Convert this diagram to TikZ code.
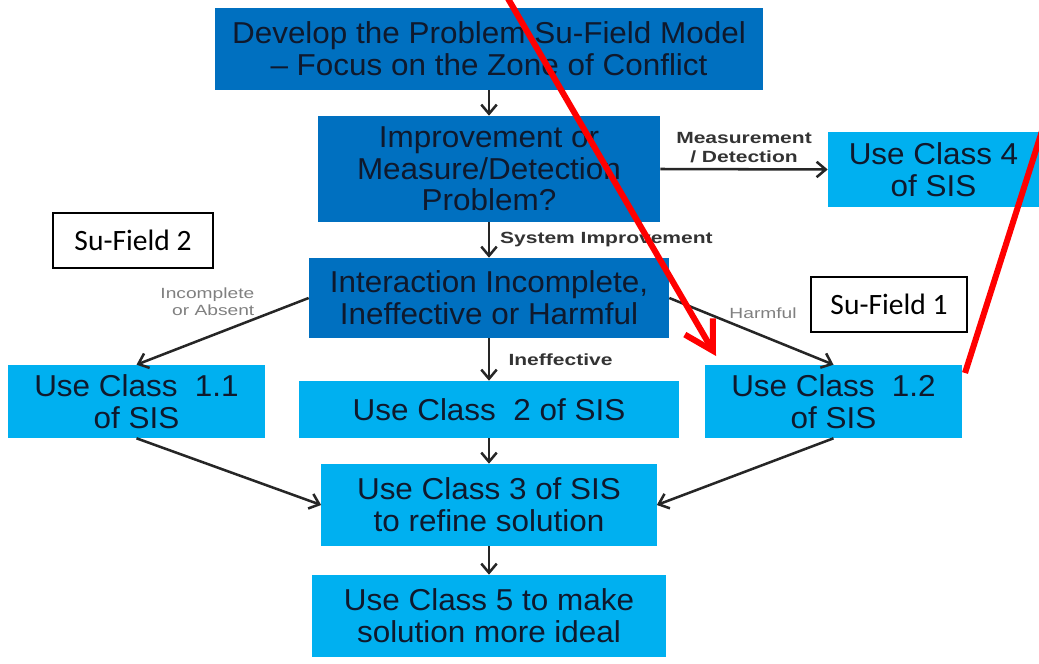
\documentclass[tikz,border=0pt]{standalone}
\usepackage{fontspec}
\setmainfont{Liberation Sans}[FakeStretch=1.04]
\newfontfamily\lblfont[FakeStretch=1.3]{Liberation Sans}
\newfontfamily\notefont{Carlito}
\usetikzlibrary{arrows.meta}
\definecolor{darkbox}{RGB}{0,112,192}
\definecolor{lightbox}{RGB}{0,176,240}
\definecolor{boxtext}{RGB}{15,25,45}

\begin{document}
\begin{tikzpicture}[x=0.025cm,y=-0.025cm,
        stepbox/.style={fill=#1,align=center,inner sep=0pt,text=boxtext,font=\fontsize{21.5}{22.5}\selectfont},
        flow/.style={-{Straight Barb[length=6.5pt,width=11pt]},line width=1.8pt,black!85},
        tag/.style={font=\lblfont\bfseries\fontsize{11.5}{13}\selectfont,align=center,inner sep=1pt,text=black!80},
        soft/.style={font=\lblfont\fontsize{10.5}{12}\selectfont,text=black!50,align=right,inner sep=1pt},
        note/.style={draw,line width=1pt,fill=white,inner sep=0pt,font=\notefont\fontsize{21}{24}\selectfont,minimum width=#1,minimum height=1.375cm},
        redmark/.style={draw=red,line width=4.3pt}]
        \useasboundingbox (0,0) rectangle (1039,664);

        \coordinate (M)  at (489,49);
        \coordinate (D)  at (489,169);
        \coordinate (C4) at (933.5,169.5);
        \coordinate (I)  at (489,298);
        \coordinate (A)  at (136.5,401.5);
        \coordinate (B)  at (489,409.5);
        \coordinate (H)  at (833.5,401.5);
        \coordinate (R)  at (489,505);
        \coordinate (G)  at (489,616);

        % boxes
        \node[stepbox=darkbox,minimum width=13.675cm,minimum height=2.05cm] (model)    at (M)  {Develop the Problem Su-Field Model\\-- Focus on the Zone of Conflict};
        \node[stepbox=darkbox,minimum width=8.55cm,minimum height=2.65cm]   (decide)   at (D)  {Improvement or\\Measure/Detection\\Problem?};
        \node[stepbox=lightbox,minimum width=5.275cm,minimum height=1.875cm] (classF)  at (C4) {Use Class 4\\of SIS};
        \node[stepbox=darkbox,minimum width=9cm,minimum height=2cm]         (interact) at (I)  {Interaction Incomplete,\\Ineffective or Harmful};
        \node[stepbox=lightbox,minimum width=6.425cm,minimum height=1.825cm] (classA)  at (A)  {Use Class~~1.1\\of SIS};
        \node[stepbox=lightbox,minimum width=9.5cm,minimum height=1.425cm]  (classB)   at (B)  {Use Class~~2 of SIS};
        \node[stepbox=lightbox,minimum width=6.425cm,minimum height=1.825cm] (classH)  at (H)  {Use Class~~1.2\\of SIS};
        \node[stepbox=lightbox,minimum width=8.375cm,minimum height=2.05cm] (refine)   at (R)  {Use Class 3 of SIS\\to refine solution};
        \node[stepbox=lightbox,minimum width=8.825cm,minimum height=2.05cm] (ideal)    at (G)  {Use Class 5 to make\\solution more ideal};

        \node[note=4cm]   (sfTwo) at (133,240.5) {Su-Field 2};
        \node[note=3.9cm] (sfOne) at (889,304.5) {Su-Field 1};

        % connectors
        \draw[flow] (model) -- (decide);
        \draw[flow] (decide.east) -- (classF.west) node[tag,midway,above=3pt] {Measurement\\/ Detection};
        \draw[flow] (decide) -- (interact) node[tag,midway,right=6pt] {System Improvement};
        \draw[flow] (interact.west) -- (classA.north) node[soft,pos=0.3,anchor=south east] {Incomplete\\or Absent};
        \draw[flow] (interact) -- (classB) node[tag,midway,right=12pt] {Ineffective};
        \draw[flow] (interact.east) -- (classH.north) node[soft,pos=0.35,anchor=south west] {Harmful};
        \draw[flow] (classA.south) -- (refine.west);
        \draw[flow] (classB) -- (refine);
        \draw[flow] (classH.south) -- (refine.east);
        \draw[flow] (refine) -- (ideal);

        % red strokes
        \coordinate (redA) at (503,-10);
        \coordinate (redB) at (716,356);
        \coordinate (redC) at (1043,128);
        \coordinate (redD) at (965,373);
        \draw[redmark,-{Straight Barb[length=20pt,width=23pt]}] (redA) -- (redB);
        \draw[redmark] (redC) -- (redD);
\end{tikzpicture}
\end{document}
